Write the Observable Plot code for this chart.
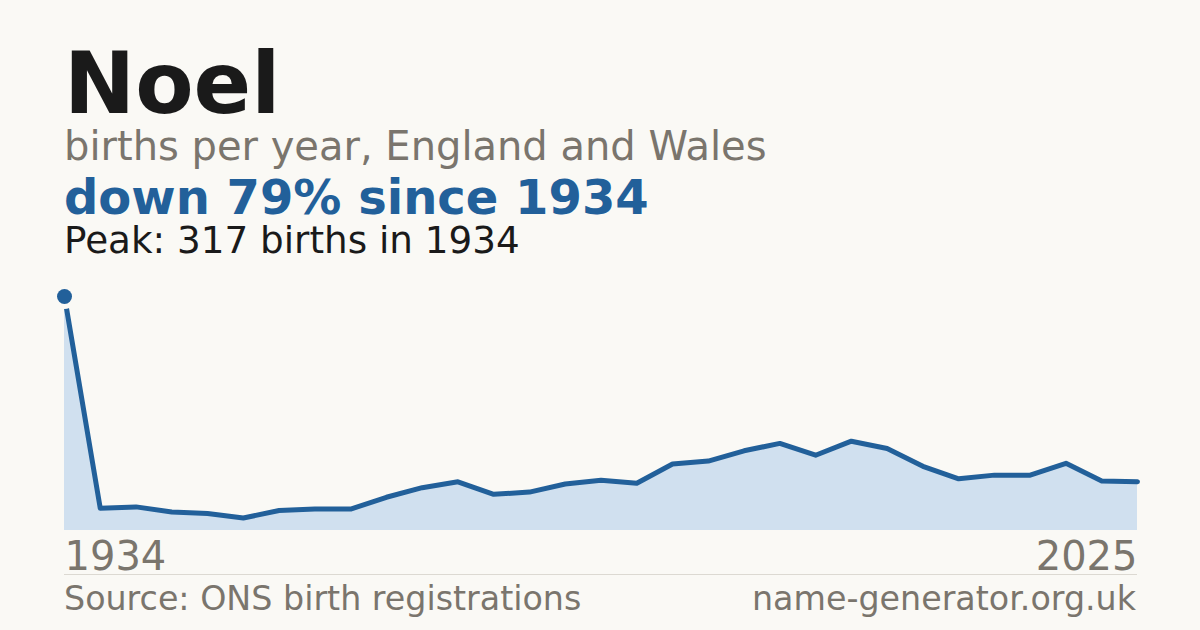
<!DOCTYPE html>
<html>
<head>
<meta charset="utf-8">
<script src="https://cdn.jsdelivr.net/npm/d3@7"></script>
<script src="https://cdn.jsdelivr.net/npm/@observablehq/plot@0.6"></script>
<style>
  html, body { margin: 0; padding: 0; background: #faf9f5; }
  #wrap { position: relative; width: 1200px; height: 630px; overflow: hidden; background: #faf9f5; font-family: "DejaVu Sans", sans-serif; }
  .t { position: absolute; left: 64px; line-height: 0.8; white-space: nowrap; }
  #title { top: 50px; font-size: 85px; font-weight: bold; color: #1a1a1a; }
  #sub { top: 130px; font-size: 40px; color: #7a756d; }
  #change { top: 178px; font-size: 48px; font-weight: bold; color: #22609a; }
  #peak { top: 226px; font-size: 37.3px; color: #1a1a1a; }
  #chart { position: absolute; left: 0; top: 270px; }
  #rule { position: absolute; left: 64px; width: 1073px; top: 574px; height: 1px; background: #dcd9d2; }
  #src { top: 586px; font-size: 33.3px; color: #7a756d; }
  #site { top: 586px; left: auto; right: 64px; font-size: 33.3px; color: #7a756d; }
</style>
</head>
<body>
<div id="wrap">
  <div class="t" id="title">Noel</div>
  <div class="t" id="sub">births per year, England and Wales</div>
  <div class="t" id="change">down 79% since 1934</div>
  <div class="t" id="peak">Peak: 317 births in 1934</div>
  <div id="chart"></div>
  <div id="rule"></div>
  <div class="t" id="src">Source: ONS birth registrations</div>
  <div class="t" id="site">name-generator.org.uk</div>
</div>
<script>
// Births per year for "Noel", evenly spaced observations from 1934 to 2025
const births = [317, 30, 32, 25, 23, 17, 27, 29, 29, 45, 58, 66, 49, 52, 63, 68, 64, 90, 94, 108, 118, 102, 121, 111, 87, 70, 75, 75, 91, 67, 66];
const tickLabels = ["1934", "2025"];
const peakValue = 317;

const data = births.map((v, i) => ({i, v}));
const last = births.length - 1;
const peakIndex = births.indexOf(peakValue);

const blue = "#22609a";
const grey = "#7a756d";
const bg = "#faf9f5";

const chart = Plot.plot({
  width: 1200,
  height: 310,
  marginLeft: 64,
  marginRight: 63,
  marginTop: 26,
  marginBottom: 50,
  style: {background: "transparent", fontFamily: "DejaVu Sans, sans-serif", overflow: "visible"},
  x: {domain: [0, last], axis: null},
  y: {domain: [0, peakValue], axis: null},
  marks: [
    Plot.areaY(data, {x: "i", y: "v", fill: "#d0e0ef", curve: "linear"}),
    Plot.lineY(data, {x: "i", y: "v", stroke: blue, strokeWidth: 5, curve: "linear"}),
    Plot.dot([data[peakIndex]], {x: "i", y: "v", r: 7.5, fill: blue, stroke: bg, strokeWidth: 10, paintOrder: "stroke"}),
    Plot.text([{i: 0, label: tickLabels[0]}], {x: "i", y: () => 0, text: "label", textAnchor: "start", dy: 27, fontSize: 40, fill: grey}),
    Plot.text([{i: last, label: tickLabels[1]}], {x: "i", y: () => 0, text: "label", textAnchor: "end", dy: 27, fontSize: 40, fill: grey})
  ]
});
document.getElementById("chart").appendChild(chart);
</script>
</body>
</html>
